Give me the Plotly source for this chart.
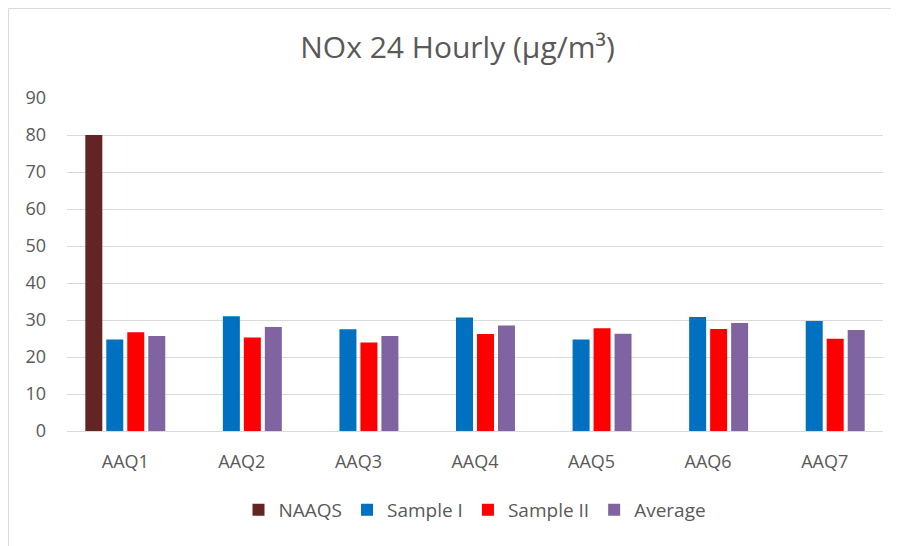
import plotly.graph_objects as go

# 数据
stations = ["AAQ1", "AAQ2", "AAQ3", "AAQ4", "AAQ5", "AAQ6", "AAQ7"]
naaqs = [80, None, None, None, None, None, None]
sample_1 = [24.7, 31.0, 27.5, 30.7, 24.7, 30.8, 29.7]
sample_2 = [26.7, 25.3, 23.9, 26.2, 27.8, 27.6, 24.9]
average = [25.7, 28.1, 25.7, 28.5, 26.3, 29.2, 27.3]

series = [
    ("NAAQS", naaqs, "#632523"),
    ("Sample I", sample_1, "#0070C0"),
    ("Sample II", sample_2, "#FF0000"),
    ("Average", average, "#8064A2"),
]

fig = go.Figure()
for name, vals, color in series:
    fig.add_trace(go.Bar(
        x=stations, y=vals, name=name,
        marker=dict(color=color, line=dict(width=0)),
    ))

fig.update_layout(
    width=899, height=546,
    template="plotly_white",
    barmode="group", bargap=0.28, bargroupgap=0.19,
    font=dict(family="Open Sans", color="#595959", size=18),
    title=dict(text="NOx 24 Hourly (µg/m³)", x=0.5, xanchor="center",
               y=1 - 39 / 546, yanchor="middle",
               font=dict(size=30, color="#595959")),
    margin=dict(l=59, r=24, t=90, b=123),
    legend=dict(orientation="h", x=0.5, xanchor="center", y=-0.237,
                yanchor="middle", font=dict(size=19), traceorder="normal"),
    plot_bgcolor="white", paper_bgcolor="white",
)
fig.update_yaxes(range=[0, 90], dtick=10, gridcolor="#D9D9D9", gridwidth=1,
                 zeroline=False, showline=False, ticks="", ticklabelstandoff=20,
                 tickfont=dict(size=18))
fig.update_xaxes(showline=True, linecolor="#D9D9D9", linewidth=1, ticks="",
                 ticklabelstandoff=14, tickfont=dict(size=18))

# 图表外框（左边和上边）
fig.add_shape(type="line", xref="paper", yref="paper",
              x0=-0.0717, x1=-0.0717, y0=-0.5, y1=1.2688,
              line=dict(color="#D9D9D9", width=1))
fig.add_shape(type="line", xref="paper", yref="paper",
              x0=-0.0717, x1=1.1, y0=1.2688, y1=1.2688,
              line=dict(color="#D9D9D9", width=1))

fig.write_html("out.html")
